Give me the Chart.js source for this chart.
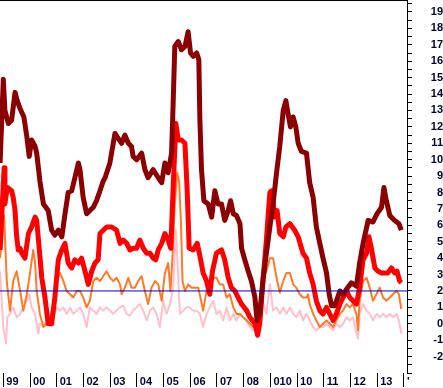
<!DOCTYPE html>
<html>
<head>
<meta charset="utf-8">
<script src="https://cdn.jsdelivr.net/npm/chart.js@4"></script>
<style>
html,body{margin:0;padding:0;background:#ffffff;}
#wrap{width:443px;height:388px;position:relative;}
</style>
</head>
<body>
<div id="wrap"><canvas id="c" width="443" height="388"></canvas></div>
<script>
// ---- axis ranges and tick labels ----
const X_MIN = 1998.876;
const X_MAX = 2014.114;
const Y_MIN = -3;
const Y_MAX = 19.73;
const yearTicks = [1999,2000,2001,2002,2003,2004,2005,2006,2007,2008,2009,2010,2011,2012,2013,2014];
const yearLabels = ['99','00','01','02','03','04','05','06','07','08','010','10','11','12','13',"'"];
const refLevel = 2;

// ---- series: dark red (thick) ----
const darkRedDates = [1998.88,1999.00,1999.06,1999.19,1999.31,1999.44,1999.52,1999.63,1999.77,1999.88,
1999.97,2000.06,2000.19,2000.25,2000.37,2000.50,2000.68,2000.81,2000.93,2001.06,
2001.19,2001.31,2001.43,2001.56,2001.68,2001.81,2001.87,2001.99,2002.12,2002.24,
2002.37,2002.49,2002.62,2002.74,2002.81,2002.99,2003.18,2003.30,2003.43,2003.55,
2003.68,2003.80,2003.86,2003.99,2004.18,2004.30,2004.42,2004.61,2004.80,2004.93,
2005.05,2005.17,2005.30,2005.36,2005.42,2005.55,2005.67,2005.80,2005.92,2006.01,
2006.11,2006.24,2006.32,2006.36,2006.42,2006.51,2006.67,2006.80,2006.92,2007.04,
2007.17,2007.29,2007.42,2007.51,2007.61,2007.73,2007.86,2007.92,2008.04,2008.17,
2008.29,2008.42,2008.50,2008.60,2008.73,2008.85,2008.98,2009.10,2009.23,2009.35,
2009.48,2009.58,2009.66,2009.75,2009.85,2009.95,2010.04,2010.16,2010.35,2010.47,
2010.60,2010.72,2010.85,2010.97,2011.10,2011.20,2011.29,2011.41,2011.60,2011.72,
2011.85,2012.03,2012.22,2012.34,2012.47,2012.66,2012.84,2012.99,2013.16,2013.25,
2013.34,2013.47,2013.65,2013.81,2013.90];
const darkRedValues = [9.8,14.9,13.0,12.2,12.4,14.1,13.6,13.1,12.6,11.4,
10.2,11.2,10.8,10.4,8.7,7.3,6.9,5.7,5.4,5.7,
5.3,6.7,8.0,8.1,8.9,9.8,9.4,7.7,6.7,6.9,
7.1,7.5,8.1,8.7,8.9,9.8,11.6,11.3,11.0,11.5,
11.0,10.8,10.2,10.0,10.4,9.4,8.9,9.4,8.9,8.6,
9.8,9.2,10.4,13.5,16.9,17.2,16.7,16.9,17.8,16.5,
16.3,16.5,16.1,12.4,9.4,7.5,7.3,6.5,8.1,7.3,
7.3,6.3,6.9,7.5,6.7,6.6,6.1,4.6,3.9,3.2,
2.6,1.6,0.2,0.6,2.8,4.3,5.9,7.3,9.2,10.8,
13.0,13.6,12.8,12.0,12.6,12.0,11.0,10.5,10.4,8.6,
7.7,5.9,4.9,4.0,3.1,1.8,1.1,1.1,2.0,1.8,
2.1,2.5,2.3,3.7,4.9,6.3,6.2,6.7,7.1,8.3,
7.5,6.6,6.3,6.1,5.7];

// ---- series: red (thick) ----
const redDates = [1998.88,1999.03,1999.06,1999.15,1999.31,1999.37,1999.44,1999.50,1999.56,1999.63,
1999.69,1999.81,1999.94,2000.06,2000.19,2000.25,2000.35,2000.44,2000.56,2000.68,
2000.81,2000.93,2001.06,2001.19,2001.31,2001.43,2001.56,2001.68,2001.81,2001.93,
2002.06,2002.18,2002.31,2002.43,2002.55,2002.62,2002.87,2003.06,2003.24,2003.37,
2003.49,2003.62,2003.74,2003.86,2003.99,2004.11,2004.24,2004.37,2004.49,2004.61,
2004.71,2004.80,2004.93,2005.05,2005.17,2005.27,2005.36,2005.46,2005.55,2005.67,
2005.80,2005.88,2005.96,2006.11,2006.26,2006.39,2006.48,2006.61,2006.73,2006.83,
2006.98,2007.17,2007.29,2007.42,2007.54,2007.67,2007.79,2007.92,2008.11,2008.23,
2008.42,2008.52,2008.60,2008.73,2008.85,2008.98,2009.04,2009.17,2009.25,2009.35,
2009.48,2009.58,2009.73,2009.91,2010.04,2010.22,2010.35,2010.47,2010.60,2010.72,
2010.85,2010.97,2011.10,2011.22,2011.35,2011.47,2011.60,2011.72,2011.85,2011.97,
2012.09,2012.22,2012.34,2012.47,2012.60,2012.69,2012.78,2012.91,2013.03,2013.16,
2013.28,2013.40,2013.53,2013.65,2013.74,2013.84,2013.90];
const redValues = [4.5,9.5,7.3,8.3,8.1,7.7,6.9,5.3,4.5,4.6,
4.3,4.0,5.5,5.9,6.5,6.3,4.5,2.8,1.6,0.0,
0.0,1.6,3.9,4.5,4.9,3.7,3.4,3.9,3.7,4.0,
3.2,2.4,3.2,3.7,3.9,5.5,5.9,5.9,5.7,4.9,
5.1,4.9,4.5,4.6,4.6,5.1,4.6,4.3,4.3,4.0,
3.9,4.5,4.9,5.5,5.1,4.6,8.3,12.2,11.2,11.2,
11.0,8.3,4.6,4.5,4.9,3.9,3.1,2.6,1.8,3.2,
4.3,4.5,3.9,2.8,2.2,2.0,1.6,1.2,0.8,0.4,
0.0,-0.7,0.0,2.8,5.1,8.0,8.1,6.5,6.9,5.5,
5.3,5.9,6.1,5.7,5.3,4.3,4.0,3.1,2.4,1.4,
0.8,0.6,1.0,0.6,0.2,0.6,1.2,1.6,2.0,1.6,
1.4,1.2,2.2,3.9,4.3,5.3,4.6,3.4,3.2,3.1,
3.1,3.1,3.4,3.1,3.2,2.6,2.5];

// ---- series: orange (thin) ----
const orangeDates = [1998.88,1999.03,1999.13,1999.25,1999.37,1999.50,1999.63,1999.75,1999.88,2000.00,
2000.12,2000.19,2000.25,2000.37,2000.50,2000.62,2000.75,2000.87,2001.00,2001.12,
2001.25,2001.37,2001.50,2001.62,2001.75,2001.87,2001.99,2002.12,2002.24,2002.37,
2002.49,2002.62,2002.74,2002.87,2002.99,2003.12,2003.24,2003.37,2003.43,2003.55,
2003.68,2003.80,2003.93,2004.05,2004.18,2004.30,2004.42,2004.55,2004.68,2004.80,
2004.93,2005.05,2005.17,2005.26,2005.34,2005.42,2005.51,2005.58,2005.65,2005.71,
2005.80,2005.92,2006.05,2006.17,2006.30,2006.38,2006.48,2006.61,2006.73,2006.86,
2006.98,2007.11,2007.23,2007.36,2007.48,2007.61,2007.73,2007.86,2007.98,2008.11,
2008.23,2008.35,2008.48,2008.60,2008.73,2008.85,2008.98,2009.10,2009.23,2009.35,
2009.48,2009.60,2009.73,2009.85,2009.97,2010.10,2010.22,2010.35,2010.41,2010.47,
2010.60,2010.72,2010.85,2010.97,2011.10,2011.22,2011.35,2011.47,2011.60,2011.72,
2011.85,2011.97,2012.09,2012.22,2012.28,2012.34,2012.47,2012.60,2012.72,2012.84,
2012.97,2013.09,2013.22,2013.34,2013.47,2013.59,2013.72,2013.81,2013.90];
const orangeValues = [4.0,6.6,2.6,0.8,2.6,3.2,2.0,0.8,1.8,3.1,
4.5,3.7,2.0,0.6,-0.2,0.0,0.2,1.2,2.6,3.1,
2.6,2.0,1.8,1.6,2.0,2.0,1.6,1.0,1.4,2.6,
2.8,2.6,2.9,3.2,2.8,2.6,2.8,2.4,1.8,2.2,
2.8,2.2,2.2,2.6,2.9,2.0,1.2,2.2,2.6,2.4,
1.4,3.1,3.7,2.0,4.3,7.3,9.2,8.7,6.3,2.6,
2.0,2.4,2.2,2.2,2.2,1.6,0.8,2.0,2.2,2.8,
2.8,2.4,2.4,1.6,1.8,1.0,0.6,0.6,0.4,0.2,
0.0,-0.2,0.2,1.0,2.6,3.2,4.0,4.0,2.8,1.9,
2.6,3.1,3.1,2.4,2.2,1.8,1.6,1.6,1.8,1.2,
0.6,0.2,-0.2,0.0,0.2,0.0,-0.2,0.2,0.6,0.8,
1.2,1.0,1.2,0.6,-0.4,1.4,2.6,2.8,2.2,1.4,
1.8,2.2,1.6,1.4,1.6,1.8,2.0,1.8,0.9];

// ---- series: pink (thin) ----
const pinkDates = [1998.88,1998.94,1999.00,1999.10,1999.15,1999.25,1999.37,1999.50,1999.63,1999.75,
1999.88,1999.97,2000.06,2000.19,2000.31,2000.37,2000.50,2000.62,2000.75,2000.87,
2001.00,2001.12,2001.25,2001.37,2001.50,2001.62,2001.75,2001.87,2001.99,2002.12,
2002.24,2002.37,2002.49,2002.62,2002.74,2002.87,2002.99,2003.12,2003.24,2003.37,
2003.49,2003.62,2003.74,2003.86,2003.99,2004.11,2004.24,2004.37,2004.49,2004.61,
2004.74,2004.86,2004.99,2005.11,2005.24,2005.36,2005.46,2005.54,2005.61,2005.74,
2005.86,2005.98,2006.11,2006.24,2006.36,2006.48,2006.61,2006.73,2006.86,2006.98,
2007.11,2007.23,2007.36,2007.48,2007.61,2007.73,2007.86,2007.98,2008.11,2008.23,
2008.35,2008.48,2008.60,2008.73,2008.85,2008.98,2009.10,2009.23,2009.35,2009.48,
2009.60,2009.73,2009.85,2009.97,2010.10,2010.22,2010.35,2010.47,2010.60,2010.72,
2010.85,2010.97,2011.10,2011.22,2011.35,2011.47,2011.60,2011.72,2011.85,2011.97,
2012.09,2012.22,2012.28,2012.34,2012.47,2012.60,2012.72,2012.84,2012.97,2013.09,
2013.22,2013.34,2013.47,2013.59,2013.72,2013.81,2013.90];
const pinkValues = [3.2,1.4,-0.2,-1.2,0.4,0.6,1.0,0.4,0.6,1.0,
1.4,1.8,1.0,0.6,-0.6,0.0,-0.2,0.2,0.2,0.4,
1.0,0.8,1.0,0.6,1.0,0.6,0.8,1.0,0.6,-0.2,
1.0,0.8,0.6,1.0,0.8,1.0,0.8,0.6,0.8,1.0,
1.1,0.6,0.5,0.8,1.0,1.2,0.8,0.2,0.8,1.0,
0.6,-0.2,1.4,0.6,1.2,2.2,5.7,3.2,0.6,0.8,
1.0,1.0,0.8,0.8,0.6,-0.2,0.6,1.0,1.4,0.6,
0.8,0.2,1.0,0.2,0.6,0.2,0.6,0.4,0.2,-0.2,
-0.4,-0.2,0.6,1.2,0.6,2.4,0.8,1.0,0.6,1.0,
0.6,1.0,0.6,0.4,0.8,0.2,0.6,0.2,-0.2,-0.4,
-0.2,-0.2,0.0,-0.2,-0.4,0.0,-0.2,0.0,0.4,0.2,
0.4,-0.6,-0.9,0.6,1.2,0.8,0.6,0.2,0.6,0.4,
0.6,0.4,0.6,0.4,0.6,0.2,-0.6];

// ---- build library structures ----
const toPoints = (dates, vals) => dates.map((d, i) => ({ x: d, y: vals[i] }));
const lineDs = (label, dates, vals, color, width) => ({
  label, data: toPoints(dates, vals), borderColor: color, backgroundColor: color,
  borderWidth: width, pointRadius: 0, tension: 0, fill: false,
  borderJoinStyle: 'round', borderCapStyle: 'butt'
});

const yTicks = [];
for (let v = Y_MIN; v <= 19.5 + 1e-9; v += 0.5) yTicks.push(Math.round(v * 10) / 10);
yTicks.push(Y_MAX);

const labelFont = { family: '"Liberation Sans", Arial, sans-serif', size: 11, weight: 'bold' };
const labelColor = '#000038';

new Chart(document.getElementById('c'), {
  type: 'line',
  data: {
    datasets: [
      { label: 'ref', data: [{ x: X_MIN, y: refLevel }, { x: X_MAX, y: refLevel }],
        borderColor: '#0000c8', borderWidth: 1, pointRadius: 0, tension: 0, fill: false },
      lineDs('A', darkRedDates, darkRedValues, '#8b0000', 5),
      lineDs('B', redDates, redValues, '#ff0000', 5),
      lineDs('C', orangeDates, orangeValues, '#ff7a28', 2),
      lineDs('D', pinkDates, pinkValues, '#ffc0cb', 2)
    ]
  },
  options: {
    responsive: false,
    devicePixelRatio: 1,
    animation: false,
    events: [],
    layout: { padding: 0 },
    plugins: { legend: { display: false }, tooltip: { enabled: false }, title: { display: false } },
    scales: {
      x: {
        type: 'linear', position: 'bottom', min: X_MIN, max: X_MAX,
        afterBuildTicks: s => { s.ticks = yearTicks.map(v => ({ value: v })); },
        afterFit: s => { s.height = 15; s.paddingLeft = 0; s.paddingRight = 0; },
        border: { display: false },
        grid: { drawOnChartArea: false, drawTicks: true, tickLength: 14, color: '#000000', lineWidth: 1 },
        ticks: {
          autoSkip: false, maxRotation: 0, minRotation: 0,
          align: 'start', labelOffset: 3, padding: -12,
          font: labelFont, color: labelColor,
          callback: (v, i) => yearLabels[i]
        }
      },
      y: {
        type: 'linear', position: 'right', min: Y_MIN, max: Y_MAX,
        afterBuildTicks: s => { s.ticks = yTicks.map(v => ({ value: v })); },
        afterFit: s => { s.width = 36; s.paddingTop = 0; s.paddingBottom = 0; },
        border: { display: true, color: '#000000', width: 1 },
        grid: {
          drawOnChartArea: true, drawTicks: true, tickLength: 5, lineWidth: 1,
          color: ctx => (ctx.tick && ctx.tick.value === Y_MAX) ? '#000000' : 'rgba(0,0,0,0)',
          tickColor: ctx => (ctx.tick && ctx.tick.value === Y_MAX) ? 'rgba(0,0,0,0)' : '#000000'
        },
        ticks: {
          autoSkip: false, crossAlign: 'far', padding: 16,
          font: labelFont, color: labelColor,
          callback: v => (Number.isInteger(v) && v >= -2) ? String(v) : ''
        }
      }
    }
  }
});
</script>
</body>
</html>
